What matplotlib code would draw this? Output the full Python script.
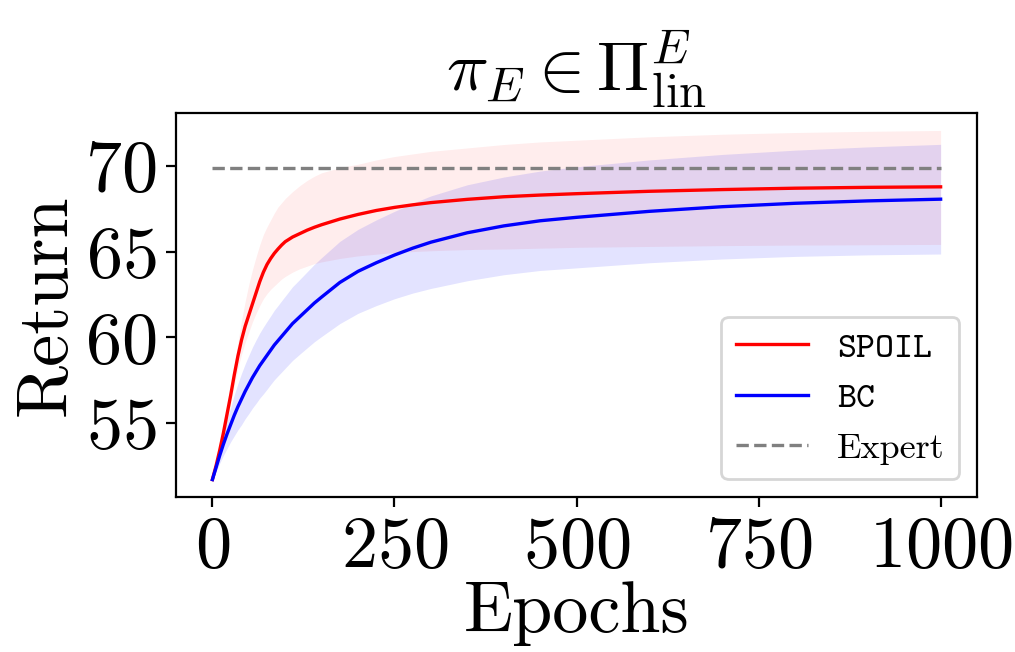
import numpy as np
import matplotlib
matplotlib.use("Agg")
import matplotlib.pyplot as plt

# ── Fonts (Computer Modern look) ───────────────────────────────────────────────
plt.rcParams["font.family"] = "serif"
plt.rcParams["font.serif"] = ["cmr10"]
plt.rcParams["mathtext.fontset"] = "cm"
plt.rcParams["axes.formatter.use_mathtext"] = True

# ── Data ───────────────────────────────────────────────────────────────────────
epochs = [0, 5, 10, 15, 20, 25, 30, 35, 40, 45, 50, 55, 60, 65, 70, 75, 80, 85,
          90, 95, 100, 110, 120, 130, 140, 150, 175, 200, 225, 250, 275, 300,
          350, 400, 450, 500, 600, 700, 800, 900, 1000]

spoil_mean = [51.7, 52.5, 53.4, 54.4, 55.5, 56.6, 57.8, 58.9, 59.85, 60.65, 61.3,
              61.95, 62.6, 63.25, 63.8, 64.25, 64.6, 64.9, 65.15, 65.38, 65.58,
              65.85, 66.05, 66.25, 66.42, 66.57, 66.9, 67.17, 67.4, 67.58, 67.73,
              67.86, 68.05, 68.2, 68.3, 68.38, 68.52, 68.62, 68.7, 68.75, 68.78]
spoil_upper = [51.7, 52.6, 53.6, 54.7, 55.9, 57.1, 58.4, 59.7, 61.0, 62.1, 63.1,
               63.95, 64.7, 65.4, 66.0, 66.45, 66.85, 67.25, 67.6, 67.85, 68.1,
               68.5, 68.85, 69.15, 69.4, 69.6, 69.9, 70.1, 70.35, 70.55, 70.7,
               70.85, 71.05, 71.25, 71.4, 71.5, 71.7, 71.85, 71.95, 72.02, 72.07]
spoil_lower = [51.7, 52.4, 53.2, 54.1, 55.1, 56.1, 57.2, 58.2, 59.0, 59.7, 60.3,
               60.9, 61.4, 61.85, 62.25, 62.55, 62.8, 63.0, 63.2, 63.4, 63.55,
               63.8, 64.0, 64.15, 64.3, 64.4, 64.6, 64.75, 64.85, 64.95, 65.0,
               65.05, 65.12, 65.15, 65.2, 65.25, 65.3, 65.35, 65.38, 65.4, 65.42]

bc_mean = [51.7, 52.4, 53.1, 53.75, 54.35, 54.9, 55.45, 55.95, 56.4, 56.85, 57.25,
           57.65, 58.0, 58.35, 58.65, 58.95, 59.25, 59.55, 59.8, 60.05, 60.3,
           60.8, 61.2, 61.6, 62.0, 62.35, 63.2, 63.85, 64.35, 64.8, 65.2,
           65.55, 66.1, 66.5, 66.8, 67.0, 67.35, 67.62, 67.82, 67.96, 68.06]
bc_std = [0.0, 0.25, 0.45, 0.65, 0.85, 1.0, 1.2, 1.35, 1.5, 1.6, 1.7,
          1.78, 1.85, 1.9, 1.95, 1.98, 2.0, 2.03, 2.05, 2.08, 2.1,
          2.15, 2.18, 2.22, 2.26, 2.3, 2.4, 2.45, 2.5, 2.55, 2.62,
          2.7, 2.8, 2.85, 2.9, 2.95, 3.0, 3.05, 3.1, 3.15, 3.2]

expert_return = 69.9

# ── Plot ───────────────────────────────────────────────────────────────────────
x = np.array(epochs)
bc_m = np.array(bc_mean)
bc_s = np.array(bc_std)

fig = plt.figure(figsize=(5.075, 3.26), dpi=200)
ax = fig.add_axes([0.1734, 0.2377, 0.7892, 0.589])

ax.fill_between(x, spoil_lower, spoil_upper, color="red", alpha=0.07, linewidth=0)
ax.fill_between(x, bc_m - bc_s, bc_m + bc_s, color="blue", alpha=0.11, linewidth=0)
ax.plot(x, spoil_mean, color="red", lw=1.2, label=r"$\mathtt{SPOIL}$")
ax.plot(x, bc_mean, color="blue", lw=1.2, label=r"$\mathtt{BC}$")
ax.plot([x[0], x[-1]], [expert_return, expert_return], color="gray",
        lw=1.2, ls="--", label="Expert")

ax.set_xticks([0, 250, 500, 750, 1000])
ax.set_yticks([55, 60, 65, 70])
ax.tick_params(labelsize=26)
ax.set_xlabel("Epochs", fontsize=26, labelpad=0)
ax.set_ylabel("Return", fontsize=26, labelpad=2)
ax.set_title(r"$\pi_E \in \Pi^E_{\mathrm{lin}}$", fontsize=25, pad=8)
ax.legend(loc="lower right", fontsize=13)

fig.savefig("out.png", dpi=200)
